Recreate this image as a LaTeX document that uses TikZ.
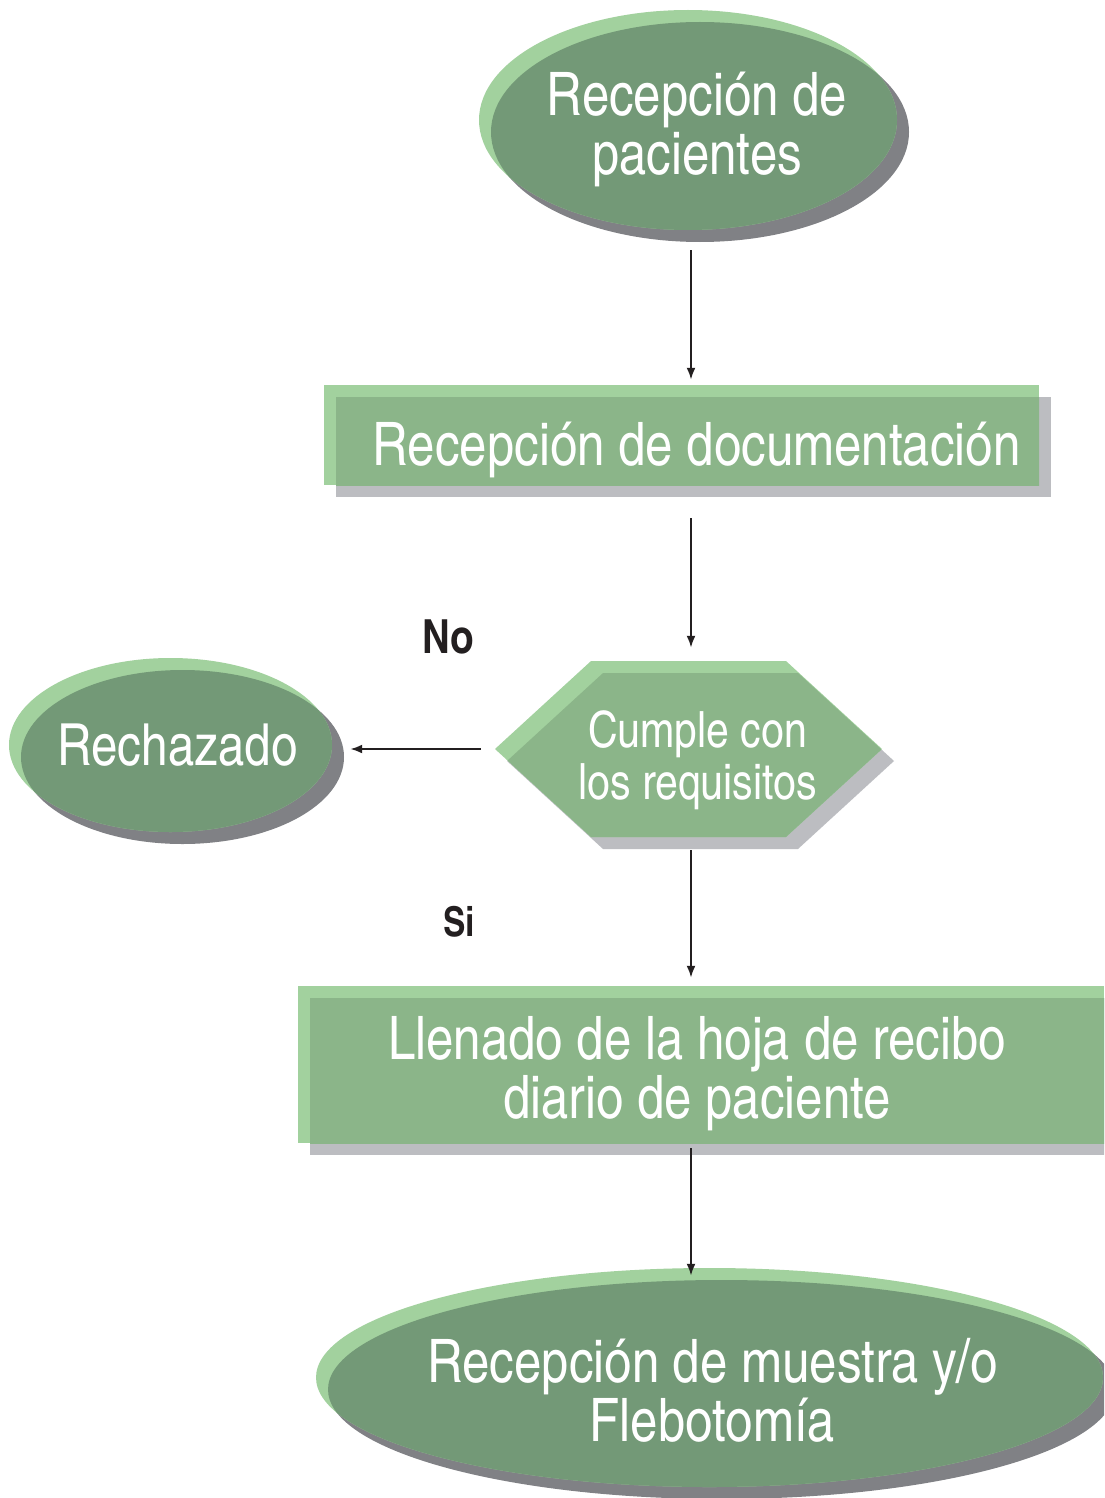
\documentclass[tikz,border=0pt]{standalone}
\usepackage{fontspec}
\setmainfont{texgyreheroscn}[Extension=.otf, UprightFont=*-regular, BoldFont=*-bold]
\usetikzlibrary{arrows.meta,shapes.geometric,shapes.symbols,shadows}
\definecolor{paleGreen}{HTML}{A2D19E}
\definecolor{boxGreen}{HTML}{8BB589}
\definecolor{ovalGreen}{HTML}{739977}
\definecolor{boxGray}{HTML}{BCBDC1}
\definecolor{ovalGray}{HTML}{808185}
\definecolor{inkBlack}{HTML}{231F20}
\begin{document}
\begin{tikzpicture}[x=1pt,y=-1pt,>={Latex[length=12pt,width=9pt]},
  txt/.style={text=white,align=center,font=\fontsize{60}{59}\selectfont},
  oval/.style 2 args={ellipse,inner sep=0pt,minimum width=#1,minimum height=#2,fill=paleGreen,
    general shadow={fill=ovalGray,shadow xshift=12pt,shadow yshift=-12pt},
    path picture={\node[ellipse,inner sep=0pt,minimum width=#1,minimum height=#2,fill=ovalGreen]
      at ([shift={(12pt,-12pt)}]path picture bounding box.center) {};}},
  box/.style 2 args={rectangle,inner sep=0pt,minimum width=#1,minimum height=#2,fill=paleGreen,
    general shadow={fill=boxGray,shadow xshift=12pt,shadow yshift=-12pt},
    path picture={\fill[boxGreen] ([shift={(12pt,-12pt)}]path picture bounding box.south west)
      rectangle ([shift={(12pt,-12pt)}]path picture bounding box.north east);}},
  hexa/.style 2 args={signal,signal to=west and east,signal pointer angle=85,inner sep=0pt,
    minimum width=#1,minimum height=#2,fill=paleGreen,
    general shadow={fill=boxGray,shadow xshift=12pt,shadow yshift=-12pt},
    path picture={\node[signal,signal to=west and east,signal pointer angle=85,inner sep=0pt,
      minimum width=#1,minimum height=#2,fill=boxGreen]
      at ([shift={(12pt,-12pt)}]path picture bounding box.center) {};}},
  flow/.style={->,line width=2.2pt,inkBlack}]
\useasboundingbox (0,0) rectangle (1104,1498);
\clip (0,0) rectangle (1104,1498);
\fill[white] (0,0) rectangle (1104,1498);
\coordinate (axis) at (691,0);
\path
(688,120)     node[oval={418pt}{220pt},label={[txt,xshift=9pt,yshift=-9pt]center:Recepción de\\pacientes}] (pac) {}
(681.5,435)   node[box={715pt}{100pt},label={[txt,xshift=15pt,yshift=-15pt]center:Recepción de documentación}] (doc) {}
(688.5,749)   node[hexa={387pt}{176pt},label={[txt,font=\fontsize{50}{52}\selectfont,xshift=9pt,yshift=-11pt]center:Cumple con\\los requisitos}] (req) {}
(170.5,745)   node[oval={323pt}{174pt},label={[txt,font=\fontsize{58}{60}\selectfont,xshift=7pt,yshift=0pt]center:Rechazado}] (rech) {}
(701,1064.5)  node[box={806pt}{157pt},label={[txt,xshift=-4pt,yshift=-9pt]center:Llenado de la hoja de recibo\\diario de paciente}] (hoja) {}
(709.5,1377.5) node[oval={787pt}{219pt},label={[txt,xshift=3pt,yshift=-13pt]center:Recepción de muestra y/o\\Flebotomía}] (mues) {}
(448,637)     node[inkBlack,font=\fontsize{47}{47}\bfseries\selectfont] (no) {No}
(459,922)     node[inkBlack,font=\fontsize{41}{41}\bfseries\selectfont] (si) {Si};

\draw[flow] ([yshift=-20pt]pac.south -| axis) -- ([yshift=5pt]doc.north -| axis);
\draw[flow] ([yshift=-33pt]doc.south -| axis) -- ([yshift=13pt]req.north -| axis);
\draw[flow] ([xshift=-14pt]req.west) -- ([xshift=18pt]rech.east |- req.west);
\draw[flow] ([yshift=-13pt]req.south -| axis) -- ([yshift=8pt]hoja.north -| axis);
\draw[flow] ([yshift=-5pt]hoja.south -| axis) -- ([yshift=-8pt]mues.north -| axis);
\end{tikzpicture}
\end{document}
